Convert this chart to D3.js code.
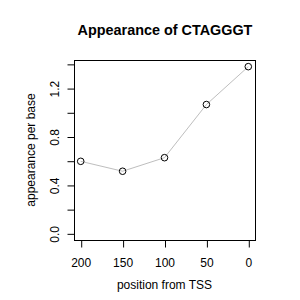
<!DOCTYPE html>
<html>
<head>
<meta charset="utf-8">
<script src="https://cdn.jsdelivr.net/npm/d3@7"></script>
<style>
  body { margin: 0; background: #fff; }
  text { font-family: "Liberation Sans", Arial, Helvetica, sans-serif; fill: #000; }
</style>
</head>
<body>
<div id="chart"></div>
<script>
// data
var positions = [200, 150, 100, 50, 0];
var appearance = [0.595, 0.513, 0.625, 1.064, 1.377];
var xTicks = [200, 150, 100, 50, 0];
var yTicks = [0, 0.2, 0.4, 0.6, 0.8, 1.0, 1.2, 1.4];
var yLabelled = [0, 0.4, 0.8, 1.2];

var width = 300, height = 300;
var box = {left: 74, right: 255, top: 60, bottom: 240};

var svg = d3.select("#chart")
  .append("svg")
    .attr("width", width)
    .attr("height", height);

// x runs backwards, R style 4% padding
var x = d3.scaleLinear()
    .domain([208, -8])
    .range([box.left, box.right]);

var y = d3.scaleLinear()
    .domain([-0.055, 1.432])
    .range([box.bottom, box.top]);

// plot frame
svg.append("rect")
    .attr("x", box.left + 0.5)
    .attr("y", box.top + 0.5)
    .attr("width", box.right - box.left)
    .attr("height", box.bottom - box.top)
    .attr("fill", "none")
    .attr("stroke", "#000")
    .attr("stroke-width", 1);

// x axis
var xAxis = svg.append("g")
    .attr("transform", "translate(0," + (box.bottom + 0.5) + ")")
    .call(d3.axisBottom(x).tickValues(xTicks).tickSize(7).tickPadding(11).tickFormat(d3.format("d")));
xAxis.select(".domain").remove();
xAxis.selectAll("line").attr("stroke", "#000").attr("transform", "translate(0.5,0)");
xAxis.selectAll("text").style("font-size", "12px").attr("fill", "#000");

// y axis
var yAxis = svg.append("g")
    .attr("transform", "translate(" + (box.left + 0.5) + ",0)")
    .call(d3.axisLeft(y).tickValues(yTicks).tickSize(7)
      .tickFormat(function(d) { return yLabelled.some(v => Math.abs(v - d) < 1e-9) ? d3.format(".1f")(d) : ""; }));
yAxis.select(".domain").remove();
yAxis.selectAll("line").attr("stroke", "#000").attr("transform", "translate(0,0.5)");
yAxis.selectAll("text")
    .style("font-size", "12px")
    .attr("fill", "#000")
    .attr("x", null)
    .attr("dy", null)
    .attr("text-anchor", "middle")
    .attr("transform", "translate(-16,0.5) rotate(-90)");

// connecting line
var line = d3.line()
    .x((d, i) => x(positions[i]))
    .y(d => y(d));

svg.append("path")
    .datum(appearance)
    .attr("d", line)
    .attr("fill", "none")
    .attr("stroke", "#bebebe")
    .attr("stroke-width", 1);

// points
svg.selectAll(".pt")
    .data(appearance)
    .join("circle")
    .attr("class", "pt")
    .attr("cx", (d, i) => x(positions[i]))
    .attr("cy", d => y(d))
    .attr("r", 3.3)
    .attr("fill", "none")
    .attr("stroke", "#000")
    .attr("stroke-width", 1);

// title and axis titles
svg.append("text")
    .attr("x", (box.left + box.right) / 2 + 0.5)
    .attr("y", 35)
    .attr("text-anchor", "middle")
    .style("font-size", "14.4px")
    .style("font-weight", "bold")
    .text("Appearance of CTAGGGT");

svg.append("text")
    .attr("x", (box.left + box.right) / 2)
    .attr("y", 289)
    .attr("text-anchor", "middle")
    .style("font-size", "12px")
    .text("position from TSS");

svg.append("text")
    .attr("transform", "translate(35," + ((box.top + box.bottom) / 2) + ") rotate(-90)")
    .attr("text-anchor", "middle")
    .style("font-size", "12px")
    .text("appearance per base");
</script>
</body>
</html>
